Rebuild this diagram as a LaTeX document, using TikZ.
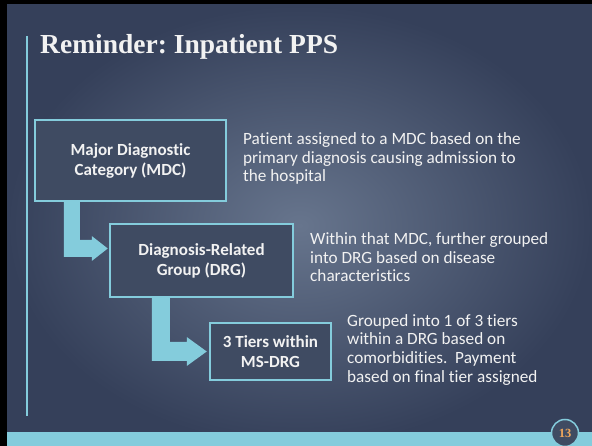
\documentclass[tikz,border=0pt]{standalone}
\usepackage{fontspec}
\setmainfont[Ligatures=NoCommon]{Carlito}
\newfontfamily\titlefont{Liberation Serif}
\usetikzlibrary{calc}
\frenchspacing
\definecolor{slidecyan}{HTML}{84CCDC}
\definecolor{boxfill}{HTML}{3F4B62}
\definecolor{bgin}{HTML}{67758D}
\definecolor{bgout}{HTML}{35405A}
\definecolor{pagenum}{HTML}{F0A75C}
\definecolor{txt}{HTML}{F2F2F2}
\begin{document}
\begin{tikzpicture}[x=1pt,y=-1pt,
  stepbox/.style={draw=slidecyan, line width=2.5pt, fill=boxfill, text=txt,
    font=\bfseries\fontsize{17}{20}\selectfont, align=center, inner sep=0pt},
  note/.style={anchor=base west, text=txt, font=\fontsize{17.2}{18.5}\selectfont,
    align=left, inner sep=0pt},
  bendfill/.style={fill=slidecyan}]
  \useasboundingbox (0,0) rectangle (592,446);
  % frame and slide background
  \fill[black] (0,0) rectangle (592,446);
  \shade[inner color=bgin, outer color=bgout] (7,5) rectangle (592,446);
  \fill[slidecyan] (7,432) rectangle (592,446);
  \draw[slidecyan, line width=2pt] (27,36) -- (27,416);

  % title
  \node[anchor=base west, text=txt, inner sep=0pt,
    font=\titlefont\bfseries\fontsize{27.5}{30}\selectfont] (title) at (40,54) {Reminder: Inpatient PPS};

  % the three steps
  \node[stepbox, minimum width=191pt, minimum height=81pt] (b1) at (130.5,160.5)
    {Major Diagnostic\\Category (MDC)};
  \node[stepbox, minimum width=183pt, minimum height=73pt] (b2) at (201.5,260.5)
    {Diagnosis-Related\\Group (DRG)};
  \node[stepbox, minimum width=121pt, minimum height=57pt] (b3) at (270.5,351.5)
    {3 Tiers within\\MS-DRG};

  % descriptions (placed by the baseline of their last line)
  \node[note] (n1) at (243,182) {Patient assigned to a MDC based on the\\primary diagnosis causing admission to\\the hospital};
  \node[note] (n2) at (310,282) {Within that MDC, further grouped\\into DRG based on disease\\characteristics};
  \node[note] (n3) at (347,382) {Grouped into 1 of 3 tiers\\within a DRG based on\\comorbidities.\ \ Payment\\based on final tier assigned};

  % bent block arrows between the steps
  \coordinate (s1) at ($(b1.south west)+(30,0)$);
  \coordinate (t1) at ($(b2.west)+(-1,-12)$);
  \fill[bendfill] let \p1=(s1), \p2=(t1) in
    (\x1,\y1) -- (\x1,\y2-8.5pt) -- (\x2-16pt,\y2-8.5pt) -- (\x2-16pt,\y2-12.5pt)
    -- (\p2) -- (\x2-16pt,\y2+12.5pt) -- (\x2-16pt,\y2+8.5pt) -- (\x1+16pt,\y2+8.5pt)
    -- (\x1+16pt,\y1) -- cycle;
  \coordinate (s2) at ($(b2.south west)+(43,0)$);
  \coordinate (t2) at ($(b3.west)+(-2,0)$);
  \fill[bendfill] let \p1=(s2), \p2=(t2) in
    (\x1,\y1) -- (\x1,\y2-9.5pt) -- (\x2-20pt,\y2-9.5pt) -- (\x2-20pt,\y2-14.5pt)
    -- (\p2) -- (\x2-20pt,\y2+14.5pt) -- (\x2-20pt,\y2+9.5pt) -- (\x1+18pt,\y2+9.5pt)
    -- (\x1+18pt,\y1) -- cycle;

  % page number badge
  \node[circle, draw=slidecyan, line width=1.5pt, fill=boxfill, minimum size=27pt,
    inner sep=0pt, text=pagenum, font=\titlefont\bfseries\fontsize{12.5}{12.5}\selectfont]
    (pg) at (565,433) {13};
\end{tikzpicture}
\end{document}
